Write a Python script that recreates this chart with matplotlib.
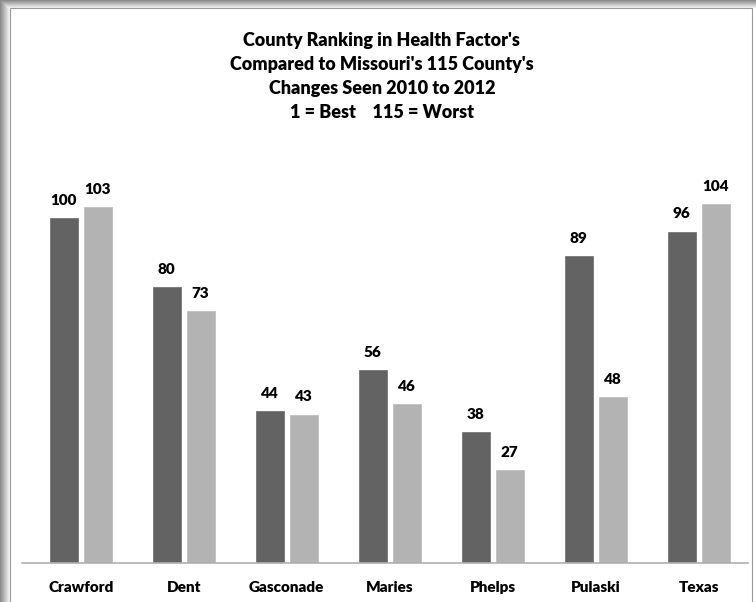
import matplotlib.pyplot as plt
from matplotlib.patches import Rectangle
import numpy as np

counties = ['Crawford', 'Dent', 'Gasconade', 'Maries', 'Phelps', 'Pulaski', 'Texas']
rank_2010 = [100, 80, 44, 56, 38, 89, 96]
rank_2012 = [103, 73, 43, 46, 27, 48, 104]

title = ("County Ranking in Health Factor's\n"
         "Compared to Missouri's 115 County's\n"
         "Changes Seen 2010 to 2012\n"
         "1 = Best    115 = Worst")

plt.rcParams['font.family'] = ['Lato', 'DejaVu Sans']

W, H = 756, 602
fig = plt.figure(figsize=(W / 100, H / 100), dpi=100)
fig.patch.set_facecolor('white')

# shadow strips + chart area frame
for i in range(10):
    g = 0.55 + 0.045 * i
    fig.patches.append(Rectangle((i / W, 0), 1 / W, (H - i) / H, transform=fig.transFigure,
                                 facecolor=(g, g, g), edgecolor='none', zorder=0))
for i in range(8):
    g = 0.55 + 0.055 * i
    fig.patches.append(Rectangle((i / W, 1 - (i + 1) / H), (W - i) / W, 1 / H, transform=fig.transFigure,
                                 facecolor=(g, g, g), edgecolor='none', zorder=0))
fig.patches.append(Rectangle((10 / W, -0.01), 742 / W, (H - 8) / H + 0.01, transform=fig.transFigure,
                             facecolor='white', edgecolor='#9a9a9a', linewidth=0.8, zorder=1))

ax = fig.add_axes([22 / W, 39 / H, 726 / W, (563 - 166) / H])
ax.set_zorder(2)
ax.patch.set_visible(False)

x = np.arange(len(counties))
off = 0.165
w = 0.272
b1 = ax.bar(x - off, rank_2010, w, color='#636363', edgecolor='#6a6a6a', linewidth=0.5)
b2 = ax.bar(x + off, rank_2012, w, color='#b3b3b3', edgecolor='#bababa', linewidth=0.5)

for bars in (b1, b2):
    for r in bars:
        ax.annotate(str(int(r.get_height())), (r.get_x() + r.get_width() / 2, r.get_height()),
                    xytext=(0, 8), textcoords='offset points', ha='center', va='bottom',
                    fontsize=11, fontweight='heavy', color='black')

ax.set_xlim(-0.57, 6.48)
ax.set_ylim(0, 115)
ax.set_xticks(x)
ax.set_xticklabels(counties, fontsize=11, fontweight='heavy')
ax.tick_params(axis='x', length=0, pad=13)
ax.set_yticks([])
for s in ['top', 'right', 'left']:
    ax.spines[s].set_visible(False)
ax.spines['bottom'].set_color('#b0b0b0')
ax.spines['bottom'].set_linewidth(1.2)

fig.text(0.505, 1 - 32 / H, title, ha='center', va='top', fontsize=13, fontweight='heavy',
         linespacing=1.5, zorder=3)

fig.savefig('out.png', dpi=100)
